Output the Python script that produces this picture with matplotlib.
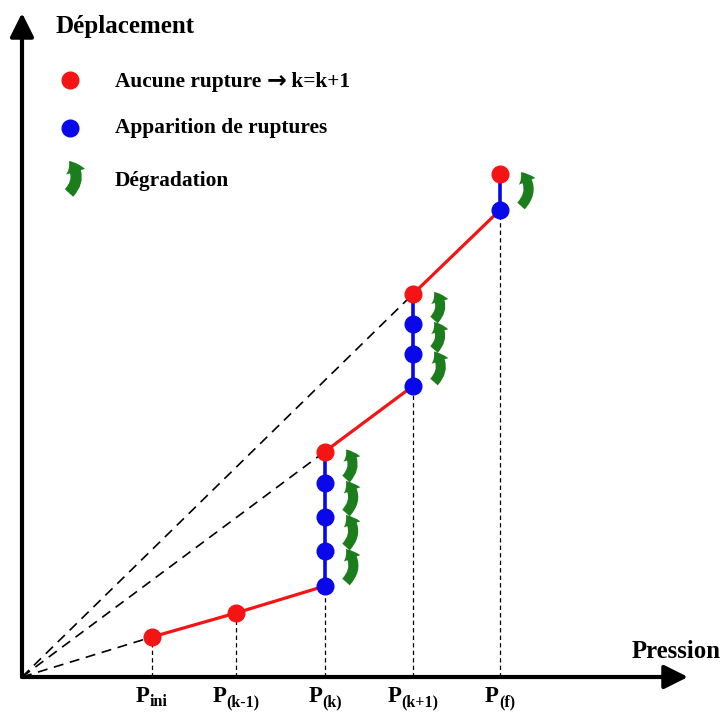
import matplotlib
matplotlib.use("Agg")
import matplotlib.pyplot as plt
from matplotlib.patches import FancyArrowPatch

# ---------------- data (origin of the diagram at 0,0) ----------------
pressure_labels = ["ini", "(k-1)", "(k)", "(k+1)", "(f)"]
pressure_x = [130, 214, 303, 391, 478]

# red points = no rupture, blue = ruptures appear
red_ini = 40
red_km1 = 64
blue_k = [91, 126, 160, 194]
red_k = 225.5
blue_k1 = [291, 323.5, 353]
red_k1 = 383
blue_f = [467]
red_f = 503

legend_first = ["Aucune rupture ", "\u2192", " k=k+1"]
legend_labels = ["Apparition de ruptures", "Dégradation"]
x_title = "Pression"
y_title = "Déplacement"

RED = "#f41414"
BLUE = "#0808ea"
GREEN = "#1b7d1b"
SERIF = ["Liberation Serif", "DejaVu Serif"]

fig = plt.figure(figsize=(7.26, 7.18), dpi=100)
ax = fig.add_axes([0, 0, 1, 1])
ax.set_xlim(-22, 704)
ax.set_ylim(-41, 677)
ax.axis("off")

x_ini, x_km1, x_k, x_k1, x_f = pressure_x

# axes arrows
for end in [(666, 0), (0, 664)]:
    ax.add_patch(FancyArrowPatch((0, 0), end, arrowstyle="-|>,head_length=0.9,head_width=0.45",
                                 mutation_scale=16, lw=3, color="black", zorder=5,
                                 shrinkA=0, shrinkB=0))

# dashed secant lines from origin
for (px, py) in [(x_ini, red_ini), (x_k, red_k), (x_k1, red_k1)]:
    ax.plot([0, px], [0, py], color="black", lw=1.2, ls=(0, (6, 4)), zorder=2)

# dotted vertical drop lines
drop_y = [red_ini, red_km1, blue_k[0], blue_k1[0], blue_f[0]]
for px, py in zip(pressure_x, drop_y):
    ax.plot([px, px], [0, py], color="black", lw=0.9, ls=(0, (3.5, 2.5)), zorder=2)

# red loading path segments
ax.plot([x_ini, x_km1, x_k], [red_ini, red_km1, blue_k[0]], color=RED, lw=2.3, zorder=3)
ax.plot([x_k, x_k1], [red_k, blue_k1[0]], color=RED, lw=2.3, zorder=3)
ax.plot([x_k1, x_f], [red_k1, blue_f[0]], color=RED, lw=2.3, zorder=3)

# blue vertical rupture segments
for px, blues, r in [(x_k, blue_k, red_k), (x_k1, blue_k1, red_k1), (x_f, blue_f, red_f)]:
    ax.plot([px, px], [blues[0], r], color=BLUE, lw=2.6, zorder=3)
    ax.plot([px] * len(blues), blues, "o", color=BLUE, ms=12, zorder=4)
    ax.plot([px], [r], "o", color=RED, ms=12, zorder=4)

ax.plot([x_ini, x_km1], [red_ini, red_km1], "o", color=RED, ms=12, zorder=4)


def curl(x, y0, y1, scale=16):
    ax.add_patch(FancyArrowPatch((x, y0), (x, y1), connectionstyle="arc3,rad=0.45",
                                 arrowstyle="simple,head_length=0.5,head_width=0.8,tail_width=0.45",
                                 mutation_scale=scale, color=GREEN, lw=0, zorder=4,
                                 shrinkA=0, shrinkB=0))


# degradation arrows next to each pair of consecutive points
for px, blues, r in [(x_k, blue_k, red_k), (x_k1, blue_k1, red_k1), (x_f, blue_f, red_f)]:
    pts = blues + [r]
    for a, b in zip(pts[:-1], pts[1:]):
        curl(px + 21, a + 4, b + 2)

# legend
ax.plot([48], [597], "o", color=RED, ms=12)
ax.plot([48], [549], "o", color=BLUE, ms=12)
curl(47, 484, 516, scale=18)

fig.canvas.draw()
renderer = fig.canvas.get_renderer()

# first legend line built from pieces (bold arrow), sharing one baseline
off = 0.0
for piece, fam, fs in zip(legend_first, [SERIF, ["DejaVu Sans"], SERIF], [15.4, 17, 15.4]):
    t = ax.annotate(piece, (93, 590), xytext=(off, 0), textcoords="offset points", fontsize=fs,
                    fontweight="bold", family=fam, va="baseline", ha="left")
    off += t.get_window_extent(renderer).width * 72 / fig.dpi

for yy, lab in zip([549, 496], legend_labels):
    ax.text(93, yy, lab, fontsize=15.4, fontweight="bold", family=SERIF, va="center", ha="left")

ax.text(33, 650, y_title, fontsize=18, fontweight="bold", family=SERIF, va="center", ha="left")
ax.text(610, 25, x_title, fontsize=17.8, fontweight="bold", family=SERIF, va="center", ha="left")

# tick labels P_sub, centered under each pressure value
for px, sub in zip(pressure_x, pressure_labels):
    tp = ax.annotate("P", (px, -25), xytext=(0, 0), textcoords="offset points", fontsize=16.5,
                     fontweight="bold", family=SERIF, ha="left", va="baseline")
    ts = ax.annotate(sub, (px, -25), xytext=(0, -3), textcoords="offset points", fontsize=11.5,
                     fontweight="bold", family=SERIF, ha="left", va="baseline")
    wp = tp.get_window_extent(renderer).width * 72 / fig.dpi
    ws = ts.get_window_extent(renderer).width * 72 / fig.dpi
    tot = wp + ws
    tp.set_position((-tot / 2, 0))
    ts.set_position((-tot / 2 + wp, -3))

fig.savefig("out.png", dpi=100)
